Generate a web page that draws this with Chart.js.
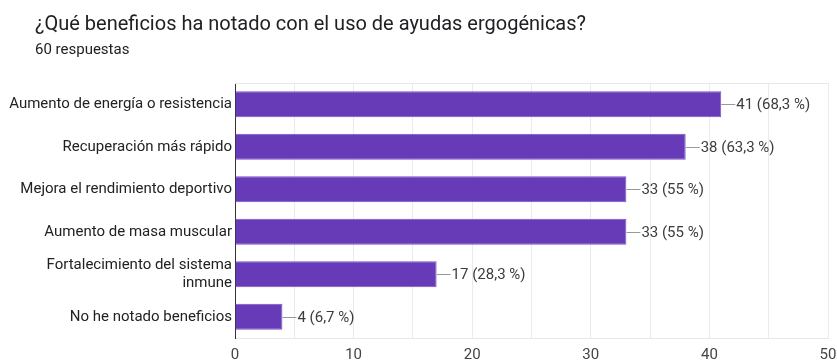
<!DOCTYPE html>
<html>
<head>
<meta charset="utf-8">
<script src="https://cdn.jsdelivr.net/npm/chart.js@4"></script>
<style>
  html, body { margin: 0; padding: 0; background: #fff; }
  #wrap { position: relative; width: 837px; height: 362px; font-family: Roboto, Arial, sans-serif; }
  #title { position: absolute; left: 35px; top: 11px; font-size: 20px; color: #202124; white-space: nowrap; }
  #sub { position: absolute; left: 35px; top: 40px; font-size: 15px; color: #202124; }
  canvas { position: absolute; left: 0; top: 0; }
</style>
</head>
<body>
<div id="wrap">
  <canvas id="chart" width="837" height="362"></canvas>
  <div id="title">¿Qué beneficios ha notado con el uso de ayudas ergogénicas?</div>
  <div id="sub">60 respuestas</div>
</div>
<script>
// answers and counts
const categories = [
  'Aumento de energía o resistencia',
  'Recuperación más rápido',
  'Mejora el rendimiento deportivo',
  'Aumento de masa muscular',
  ['Fortalecimiento del sistema', 'inmune'],
  'No he notado beneficios'
];
const counts = [41, 38, 33, 33, 17, 4];
const percents = ['68,3', '63,3', '55', '55', '28,3', '6,7'];
const xTicks = [0, 10, 20, 30, 40, 50];

const FONT = 'Roboto, Arial, sans-serif';

// leader line + "n (p %)" label at the end of every bar
const valueLabels = {
  id: 'valueLabels',
  afterDatasetsDraw(chart) {
    const ctx = chart.ctx;
    const meta = chart.getDatasetMeta(0);
    ctx.save();
    ctx.font = '15px ' + FONT;
    ctx.textBaseline = 'middle';
    meta.data.forEach((bar, i) => {
      ctx.strokeStyle = '#999';
      ctx.lineWidth = 1;
      ctx.beginPath();
      ctx.moveTo(bar.x, Math.round(bar.y) + 0.5);
      ctx.lineTo(bar.x + 14, Math.round(bar.y) + 0.5);
      ctx.stroke();
      ctx.fillStyle = '#3c3c3c';
      ctx.fillText(counts[i] + ' (' + percents[i] + ' %)', bar.x + 15, bar.y + 1);
    });
    ctx.restore();
  }
};

// light frame line along the top of the plot
const topLine = {
  id: 'topLine',
  beforeDatasetsDraw(chart) {
    const { ctx, chartArea } = chart;
    ctx.save();
    ctx.strokeStyle = '#e6e6e6';
    ctx.lineWidth = 1;
    ctx.beginPath();
    ctx.moveTo(chartArea.left, chartArea.top + 0.5);
    ctx.lineTo(chartArea.right, chartArea.top + 0.5);
    ctx.stroke();
    ctx.restore();
  }
};

new Chart(document.getElementById('chart'), {
  type: 'bar',
  data: {
    labels: categories,
    datasets: [{
      data: counts,
      backgroundColor: '#673ab7',
      borderColor: '#7b52c4',
      borderWidth: 1,
      categoryPercentage: 0.61,
      barPercentage: 1
    }]
  },
  options: {
    indexAxis: 'y',
    responsive: false,
    animation: false,
    layout: { padding: { top: 83, right: 0, left: 0, bottom: 0 } },
    plugins: { legend: { display: false }, tooltip: { enabled: false } },
    scales: {
      x: {
        min: 0,
        max: 50,
        afterBuildTicks(scale) {
          scale.ticks = [0, 5, 10, 15, 20, 25, 30, 35, 40, 45, 50].map(v => ({ value: v }));
        },
        grid: { color: '#ebebeb', drawTicks: false },
        border: { color: '#e6e6e6' },
        ticks: {
          padding: 8,
          color: '#444',
          font: { family: FONT, size: 15 },
          callback: v => (xTicks.includes(v) ? v : '')
        },
        afterFit(scale) {
          scale.height = 24;
          scale.paddingRight = 9;
          scale.paddingLeft = 0;
        }
      },
      y: {
        grid: { display: false, drawTicks: false, tickLength: 0 },
        border: { color: '#333', width: 1 },
        ticks: {
          padding: 3,
          color: '#222',
          font: { family: FONT, size: 15 }
        },
        afterFit(scale) { scale.width = 235; }
      }
    }
  },
  plugins: [valueLabels, topLine]
});
</script>
</body>
</html>
